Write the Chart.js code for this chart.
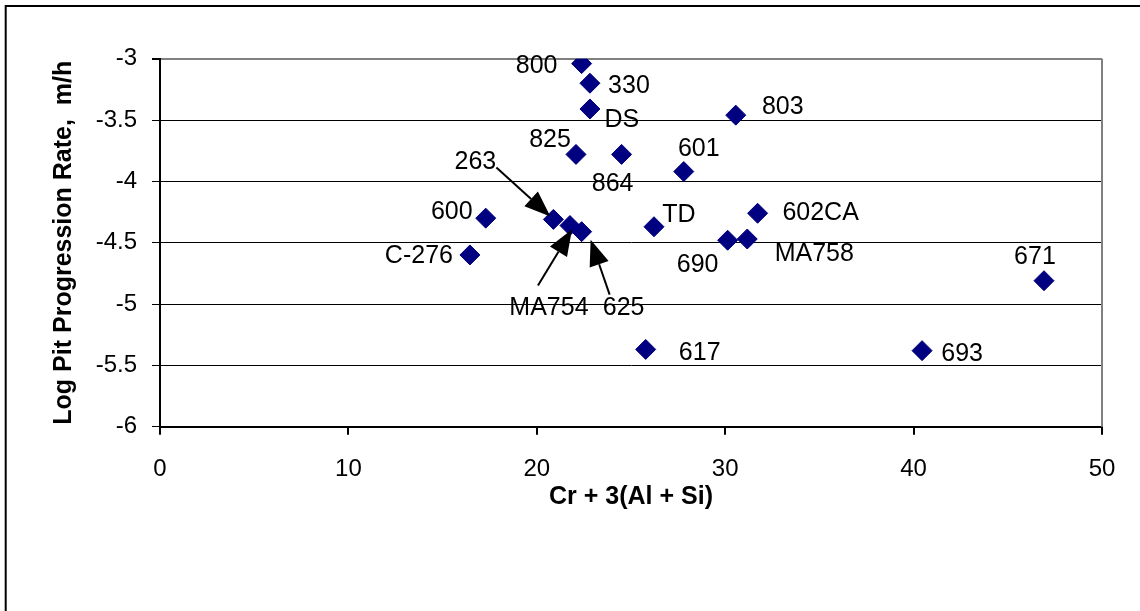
<!DOCTYPE html>
<html>
<head>
<meta charset="utf-8">
<title>Log Pit Progression Rate vs Cr + 3(Al + Si)</title>
<script src="https://cdn.jsdelivr.net/npm/chart.js@4.4.1/dist/chart.umd.min.js"></script>
<style>
	html, body { margin: 0; padding: 0; background: #fff; }
	#wrap { width: 1140px; height: 611px; }
</style>
</head>
<body>
<div id="wrap"><canvas id="pit-chart"></canvas></div>
<script>
	// Data
	var alloys = ['800', '330', 'DS', '803', '825', '864', '601', '263', '600', 'MA754', '625', 'TD', '602CA', '690', 'MA758', 'C-276', '617', '693', '671'];
	var crAlSi = [22.38, 22.82, 22.82, 30.56, 22.08, 24.5, 27.8, 20.88, 17.29, 21.76, 22.38, 26.22, 31.72, 30.13, 31.17, 16.45, 25.78, 40.45, 46.92];
	var logRate = [-3.04, -3.2, -3.41, -3.46, -3.78, -3.78, -3.92, -4.31, -4.3, -4.36, -4.41, -4.37, -4.26, -4.48, -4.47, -4.6, -5.37, -5.38, -4.81];
	var xTicks = [0, 10, 20, 30, 40, 50];
	var yTicks = [-6, -5.5, -5, -4.5, -4, -3.5, -3];

	// label placement (pixel offsets from each marker)
	var labelDx = [-45, 39, 32, 47, -26, -9, 15, -78, -34, -21, 42, 25, 63, -30, 67, -51, 54, 40, -9];
	var labelDy = [3, 3, 11, -8, -14, 30, -22, -57, -6, 83, 76, -12, 0, 25, 15, 1, 4, 3, -24];

	// arrows: [alloy, tail dx, tail dy, tip dx, tip dy]
	var arrows = [
		['263', -57, -52, -3, -3],
		['MA754', -32, 60, 2, 4],
		['625', 28, 63, 9, 8]
	];

	var points = crAlSi.map(function (x, i) {
		return { x: x, y: logRate[i] };
	});

	var FONT = '"Liberation Sans", Arial, sans-serif';

	function drawArrow(ctx, x1, y1, x2, y2) {
		var ang = Math.atan2(y2 - y1, x2 - x1);
		var len = 26, half = 10;
		var bx = x2 - Math.cos(ang) * len, by = y2 - Math.sin(ang) * len;
		ctx.beginPath();
		ctx.moveTo(x1, y1);
		ctx.lineTo(bx, by);
		ctx.lineWidth = 2;
		ctx.strokeStyle = '#000';
		ctx.stroke();
		ctx.beginPath();
		ctx.moveTo(x2, y2);
		ctx.lineTo(bx - Math.sin(ang) * half, by + Math.cos(ang) * half);
		ctx.lineTo(bx + Math.sin(ang) * half, by - Math.cos(ang) * half);
		ctx.closePath();
		ctx.fillStyle = '#000';
		ctx.fill();
	}

	var annotate = {
		id: 'annotate',
		beforeDraw: function (chart) {
			var ctx = chart.ctx;
			ctx.save();
			ctx.fillStyle = '#fff';
			ctx.fillRect(0, 0, chart.width, chart.height);
			ctx.strokeStyle = '#000';
			ctx.lineWidth = 2;
			ctx.beginPath();
			ctx.moveTo(5.7, chart.height);
			ctx.lineTo(5.7, 6);
			ctx.lineTo(chart.width, 6);
			ctx.stroke();
			ctx.restore();
		},
		afterDatasetsDraw: function (chart) {
			var ctx = chart.ctx;
			var meta = chart.getDatasetMeta(0);
			var area = chart.chartArea;
			ctx.save();
			// plot area right edge
			ctx.strokeStyle = '#808080';
			ctx.lineWidth = 2;
			ctx.beginPath();
			ctx.moveTo(area.right, area.top);
			ctx.lineTo(area.right, area.bottom);
			ctx.stroke();

			ctx.font = '25px ' + FONT;
			ctx.fillStyle = '#000';
			ctx.textAlign = 'center';
			ctx.textBaseline = 'middle';
			meta.data.forEach(function (pt, i) {
				ctx.fillText(alloys[i], pt.x + labelDx[i], pt.y + labelDy[i]);
			});
			arrows.forEach(function (a) {
				var pt = meta.data[alloys.indexOf(a[0])];
				drawArrow(ctx, pt.x + a[1], pt.y + a[2], pt.x + a[3], pt.y + a[4]);
			});
			ctx.restore();
		}
	};

	var ctx1 = document.getElementById('pit-chart').getContext('2d');
	var pitChart = new Chart(ctx1, {
		type: 'scatter',
		data: {
			datasets: [
				{
					label: 'Alloys',
					data: points,
					pointStyle: 'rectRot',
					pointRadius: 10,
					pointHoverRadius: 10,
					backgroundColor: '#000080',
					borderColor: '#000080',
					borderWidth: 1
				}
			]
		},
		options: {
			responsive: true,
			maintainAspectRatio: false,
			animation: false,
			events: [],
			layout: {
				padding: { left: 47, top: 58.7, right: 38, bottom: 99 }
			},
			plugins: {
				legend: { display: false },
				tooltip: { enabled: false }
			},
			scales: {
				x: {
					type: 'linear',
					min: 0,
					max: 50,
					afterBuildTicks: function (scale) {
						scale.ticks = xTicks.map(function (v) { return { value: v }; });
					},
					afterFit: function (scale) {
						scale.height = 85.3;
					},
					border: { color: '#000', width: 2 },
					grid: {
						drawOnChartArea: false,
						tickLength: 8,
						tickColor: '#000',
						lineWidth: 2
					},
					ticks: {
						color: '#000',
						padding: 20,
						font: { family: FONT, size: 24 },
						callback: function (v) { return String(v); }
					},
					title: {
						display: true,
						text: 'Cr + 3(Al + Si)',
						color: '#000',
						padding: 0,
						font: { family: FONT, size: 25, weight: 'bold' }
					}
				},
				y: {
					type: 'linear',
					min: -6,
					max: -3,
					afterBuildTicks: function (scale) {
						scale.ticks = yTicks.map(function (v) { return { value: v }; });
					},
					afterFit: function (scale) {
						scale.width = 160 - 47;
					},
					border: { color: '#000', width: 2 },
					grid: {
						color: function (c) {
							return c.tick && c.tick.value === -3 ? '#808080' : '#000';
						},
						lineWidth: function (c) {
							return c.tick && c.tick.value === -3 ? 2 : 1;
						},
						tickLength: 8,
						tickColor: '#000'
					},
					ticks: {
						color: '#000',
						padding: 15,
						font: { family: FONT, size: 24 },
						callback: function (v) { return String(v); }
					},
					title: {
						display: true,
						text: 'Log Pit Progression Rate,  m/h',
						color: '#000',
						padding: { top: 2 },
						font: { family: FONT, size: 25, weight: 'bold' }
					}
				}
			}
		},
		plugins: [annotate]
	});
</script>
</body>
</html>
